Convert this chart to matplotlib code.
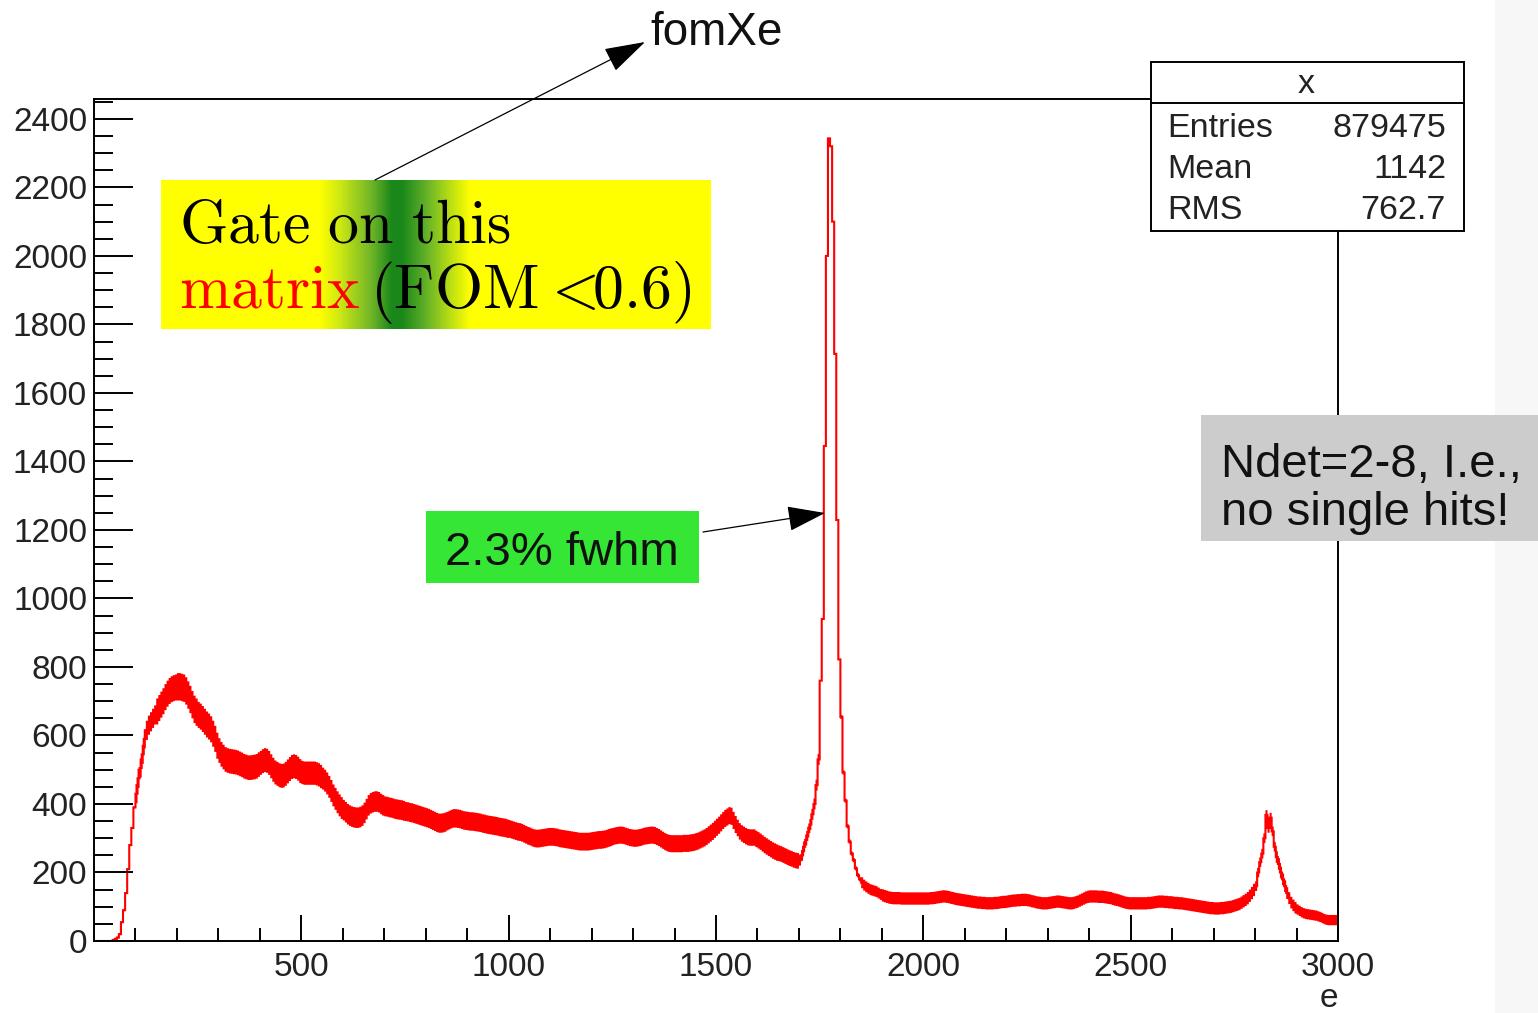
import numpy as np
import matplotlib
matplotlib.use('Agg')
import matplotlib.pyplot as plt
from matplotlib.patches import Rectangle, FancyArrowPatch
from matplotlib.lines import Line2D

plt.rcParams['font.family'] = ['Liberation Sans', 'DejaVu Sans']
plt.rcParams['mathtext.fontset'] = 'cm'

# ---------------- data ----------------
bin_width = 5          # keV per bin
e_min, e_max = 0, 3000

counts_rows = [
    [0, 0, 0, 0, 0, 0, 0, 0, 0, 3, 6, 10, 20, 55, 90, 140, 210, 280, 330, 390],                      # 0-100
    [430, 475, 505, 545, 590, 615, 630, 640, 650, 660, 670, 680, 690, 700, 712, 722, 730, 735, 738, 740],  # 100-200
    [742, 742, 740, 738, 730, 718, 705, 690, 676, 668, 660, 655, 648, 640, 632, 626, 618, 605, 590, 570],  # 200-300
    [556, 545, 537, 530, 527, 525, 524, 523, 522, 520, 517, 514, 510, 508, 506, 506, 507, 508, 510, 515],  # 300-400
    [520, 525, 528, 526, 520, 510, 500, 492, 488, 484, 482, 483, 488, 495, 502, 508, 510, 508, 503, 496],  # 400-500
    [492, 490, 490, 490, 490, 490, 490, 488, 485, 480, 474, 468, 460, 450, 438, 425, 415, 405, 396, 388],  # 500-600
    [382, 376, 370, 366, 363, 361, 360, 360, 362, 366, 374, 385, 396, 402, 405, 407, 407, 405, 400, 396],  # 600-700
    [393, 392, 390, 389, 387, 385, 384, 383, 382, 380, 378, 377, 375, 374, 372, 370, 368, 366, 364, 362],  # 700-800
    [360, 358, 355, 352, 349, 346, 344, 344, 345, 347, 350, 353, 356, 358, 358, 357, 356, 354, 352, 351],  # 800-900
    [350, 349, 349, 348, 347, 346, 345, 343, 342, 340, 339, 338, 337, 336, 335, 333, 332, 331, 330, 328],  # 900-1000
    [327, 325, 323, 321, 319, 318, 316, 313, 310, 307, 305, 302, 300, 299, 299, 300, 301, 302, 303, 304],  # 1000-1100
    [304, 304, 303, 302, 300, 299, 298, 297, 296, 295, 294, 293, 292, 291, 290, 290, 290, 290, 290, 291],  # 1100-1200
    [292, 293, 294, 295, 295, 296, 297, 299, 301, 303, 305, 307, 308, 309, 309, 308, 306, 304, 302, 301],  # 1200-1300
    [300, 300, 301, 302, 304, 306, 307, 308, 309, 309, 308, 305, 302, 298, 294, 290, 287, 285, 284, 284],  # 1300-1400
    [284, 284, 284, 284, 285, 285, 285, 286, 287, 288, 290, 292, 295, 298, 301, 305, 310, 315, 320, 326],  # 1400-1500
    [332, 338, 345, 352, 358, 362, 366, 364, 352, 340, 330, 320, 314, 310, 306, 303, 302, 302, 302, 298],  # 1500-1600
    [294, 290, 285, 280, 276, 272, 268, 264, 261, 258, 256, 254, 251, 248, 245, 242, 240, 237, 235, 234],  # 1600-1700
    [236, 250, 275, 295, 318, 340, 370, 400, 455, 530, 760, 940, 1445, 2000, 2343, 2320, 2100, 1714, 1229, 822],  # 1700-1800
    [654, 492, 410, 335, 290, 255, 236, 212, 192, 180, 170, 163, 158, 154, 150, 148, 146, 144, 140, 136],  # 1800-1900
    [133, 131, 129, 127, 126, 125, 125, 125, 125, 124, 124, 124, 124, 124, 124, 124, 124, 124, 124, 124],  # 1900-2000
    [124, 124, 124, 125, 125, 126, 127, 128, 129, 130, 130, 129, 128, 126, 125, 123, 122, 121, 120, 119],  # 2000-2100
    [118, 117, 116, 115, 114, 113, 112, 112, 111, 111, 110, 110, 110, 110, 111, 111, 112, 113, 114, 114],  # 2100-2200
    [115, 116, 117, 118, 118, 119, 119, 120, 120, 120, 119, 118, 116, 115, 113, 112, 111, 110, 110, 110],  # 2200-2300
    [111, 112, 113, 114, 115, 115, 114, 113, 112, 111, 110, 110, 111, 113, 115, 118, 121, 124, 127, 129],  # 2300-2400
    [130, 130, 130, 130, 129, 129, 129, 128, 127, 126, 125, 123, 121, 120, 118, 116, 114, 112, 111, 110],  # 2400-2500
    [110, 110, 110, 110, 110, 110, 110, 110, 111, 111, 112, 113, 114, 115, 115, 115, 114, 114, 113, 113],  # 2500-2600
    [112, 111, 111, 110, 110, 109, 108, 107, 106, 105, 104, 103, 102, 101, 100, 99, 98, 97, 96, 96],       # 2600-2700
    [95, 95, 95, 96, 96, 97, 98, 99, 100, 102, 104, 106, 108, 112, 116, 120, 125, 132, 140, 149],          # 2700-2800
    [160, 200, 230, 255, 300, 368, 330, 360, 320, 275, 245, 225, 200, 180, 160, 140, 125, 112, 104, 97],   # 2800-2900
    [92, 88, 84, 81, 79, 78, 77, 76, 75, 74, 72, 70, 67, 64, 62, 61, 61, 61, 61, 61],                      # 2900-3000
]

# visual half-thickness of the statistical-noise band, per 50 keV
band_halfwidth_50kev = [0, 3, 28, 38, 40, 38, 36, 36, 35, 35,
                        34, 32, 30, 30, 29, 28, 28, 27, 27, 27,
                        26, 26, 26, 26, 26, 25, 25, 25, 25, 25,
                        25, 24, 24, 23, 16, 0, 6, 16, 18, 18,
                        18, 18, 18, 18, 18, 18, 18, 18, 18, 18,
                        18, 18, 18, 18, 18, 18, 14, 17, 15, 15]

x_ticks = [500, 1000, 1500, 2000, 2500, 3000]
x_minor_step = 100
y_ticks = [0, 200, 400, 600, 800, 1000, 1200, 1400, 1600, 1800, 2000, 2200, 2400]
y_minor_step = 50
y_max = 2458

title = 'fomXe'
x_label = 'e'
stats_header = 'x'
stats_labels = ['Entries', 'Mean', 'RMS']
stats_values = ['879475', '1142', '762.7']

# ---------------- figure ----------------
W, H = 1538, 1013
fig = plt.figure(figsize=(W / 100, H / 100), dpi=100)
fig.patch.set_facecolor('white')


def fx(px):
    return px / W


def fy(py):
    return 1 - py / H


# faint slide background strip at right edge
fig.add_artist(Rectangle((fx(1495), 0), fx(1538) - fx(1495), 1, transform=fig.transFigure,
                         fc='#f7f7f7', ec='none', zorder=-5))

ax = fig.add_axes([fx(94), fy(941), fx(1338) - fx(94), fy(99) - fy(941)])

edges = np.arange(e_min, e_max + bin_width, bin_width)
counts = np.concatenate(counts_rows).astype(float)
band = np.repeat(np.asarray(band_halfwidth_50kev, float), 50 // bin_width)

ax.stairs(counts + band, edges, baseline=counts - band, fill=True, color='#ff0000', lw=0)
ax.stairs(counts, edges, baseline=None, color='#ff0000', lw=1.5)

ax.set_xlim(e_min, e_max)
ax.set_ylim(0, y_max)
ax.set_xticks(x_ticks)
ax.set_xticks(np.arange(x_minor_step, e_max, x_minor_step), minor=True)
ax.set_yticks(y_ticks)
ax.set_yticks(np.arange(0, y_max, y_minor_step), minor=True)

tc = '#222222'
ax.tick_params(axis='x', which='major', direction='in', length=18.5, width=1.4,
               labelsize=24, pad=8, labelcolor=tc, top=False)
ax.tick_params(axis='x', which='minor', direction='in', length=9.3, width=1.4, top=False)
ax.tick_params(axis='y', which='major', direction='in', length=28, width=1.4,
               labelsize=24, pad=5, labelcolor=tc, right=False)
ax.tick_params(axis='y', which='minor', direction='in', length=13.7, width=1.4, right=False)
for s in ax.spines.values():
    s.set_linewidth(1.4)
ax.set_xlabel(x_label, loc='right', fontsize=24, labelpad=0, color=tc)

# ---------------- title and arrow ----------------
fig.text(fx(650), fy(45), title, fontsize=33, va='baseline', ha='left', color='#111111')
fig.add_artist(FancyArrowPatch((fx(375), fy(180)), (fx(645), fy(42)), transform=fig.transFigure,
                               arrowstyle='-|>,head_length=1.3,head_width=0.4', mutation_scale=20,
                               lw=0.9, color='black', shrinkA=0, shrinkB=0, zorder=6))

# ---------------- stats box ----------------
sx0, sx1, sy0, sy1, shead = 1151, 1464, 62, 231, 103
fig.add_artist(Rectangle((fx(sx0), fy(sy1)), fx(sx1) - fx(sx0), fy(sy0) - fy(sy1),
                         transform=fig.transFigure, fc='white', ec='black', lw=1.4, zorder=10))
fig.add_artist(Line2D([fx(sx0), fx(sx1)], [fy(shead), fy(shead)], transform=fig.transFigure,
                      color='black', lw=1.4, zorder=11))
fig.text(fx(1306), fy(93), stats_header, fontsize=24.5, ha='center', va='baseline', zorder=12, color=tc)
for i, (lab, val) in enumerate(zip(stats_labels, stats_values)):
    yb = [137, 178, 219][i]
    fig.text(fx(1167), fy(yb), lab, fontsize=24.5, ha='left', va='baseline', zorder=12, color=tc)
    fig.text(fx(1446), fy(yb), val, fontsize=24.5, ha='right', va='baseline', zorder=12, color=tc)

# ---------------- yellow "gate" box with green band ----------------
yb_x0, yb_x1, yb_y0, yb_y1 = 161, 711, 180, 329
gax = fig.add_axes([fx(yb_x0), fy(yb_y1), fx(yb_x1) - fx(yb_x0), fy(yb_y0) - fy(yb_y1)])
gax.set_axis_off()
cols = np.arange(yb_x0, yb_x1) + 0.5
ctrl_x = [161, 320, 340, 372, 392, 402, 425, 450, 470, 711]
ctrl_r = [255, 255, 205, 110, 25, 25, 95, 185, 255, 255]
ctrl_g = [255, 255, 232, 180, 135, 135, 175, 222, 255, 255]
ctrl_b = [0, 0, 20, 40, 25, 25, 40, 20, 0, 0]
img = np.stack([np.interp(cols, ctrl_x, ctrl_r), np.interp(cols, ctrl_x, ctrl_g),
                np.interp(cols, ctrl_x, ctrl_b)], axis=-1)[None, :, :] / 255.0
gax.imshow(img, aspect='auto', extent=(0, 1, 0, 1))
gax.set_xlim(0, 1)
gax.set_ylim(0, 1)

gfs = 44.5
fig.text(fx(179), fy(243), r'$\mathrm{Gate\ on\ this}$', fontsize=gfs, va='baseline', ha='left', zorder=8)
fig.text(fx(179), fy(308), r'$\mathrm{matrix}$', fontsize=gfs, va='baseline', ha='left',
         color='#ff0000', zorder=8)
fig.text(fx(370), fy(308), r'$\mathrm{(FOM}$', fontsize=gfs, va='baseline', ha='left', zorder=8)
fig.text(fx(541), fy(308), r'$<\!\!\mathrm{0.6)}$', fontsize=gfs, va='baseline', ha='left', zorder=8)

# ---------------- green fwhm box ----------------
fig.add_artist(Rectangle((fx(426), fy(583)), fx(699) - fx(426), fy(511) - fy(583),
                         transform=fig.transFigure, fc='#35e635', ec='none', zorder=5))
fig.text(fx(445), fy(565), '2.3% fwhm', fontsize=34, va='baseline', ha='left', zorder=7, color='#111111')
fig.add_artist(FancyArrowPatch((fx(703), fy(532)), (fx(825), fy(513)), transform=fig.transFigure,
                               arrowstyle='-|>,head_length=1.2,head_width=0.4', mutation_scale=20,
                               lw=0.9, color='black', shrinkA=0, shrinkB=0, zorder=6))

# ---------------- grey note box ----------------
fig.add_artist(Rectangle((fx(1201), fy(541)), fx(1538) - fx(1201), fy(415) - fy(541),
                         transform=fig.transFigure, fc='#cccccc', ec='none', zorder=5))
fig.text(fx(1221), fy(477), 'Ndet=2-8, I.e.,', fontsize=34, va='baseline', ha='left', zorder=7, color='#111111')
fig.text(fx(1221), fy(525), 'no single hits!', fontsize=34, va='baseline', ha='left', zorder=7, color='#111111')

fig.savefig('out.png', dpi=100)
